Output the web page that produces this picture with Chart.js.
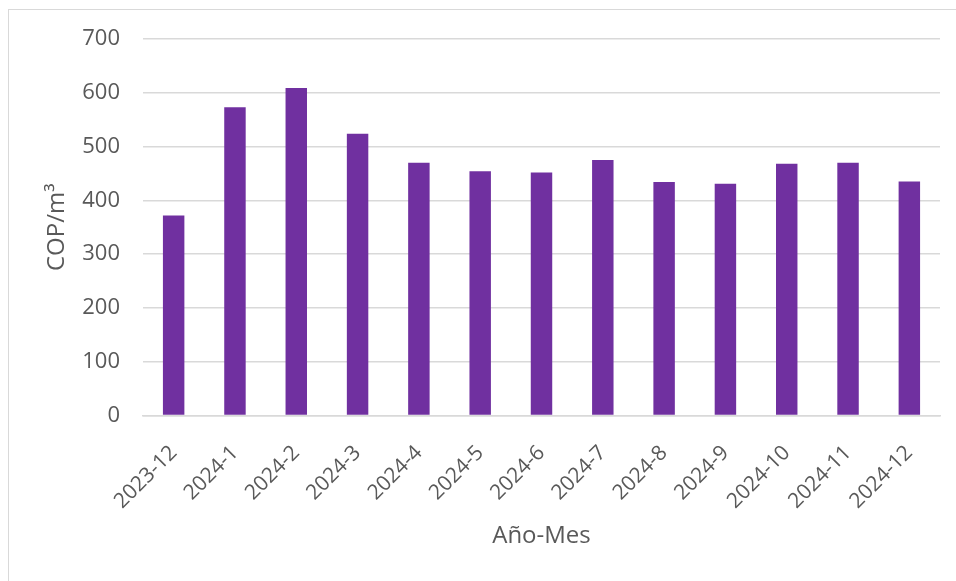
<!DOCTYPE html>
<html>
<head>
<meta charset="utf-8">
<script src="https://cdn.jsdelivr.net/npm/chart.js@4"></script>
<style>
  html, body { margin: 0; padding: 0; background: #ffffff; }
  #wrap { position: relative; width: 956px; height: 581px; overflow: hidden; }
  #frame { position: absolute; left: 8px; top: 9px; width: 1000px; height: 1000px; border: 1px solid #d9d9d9; box-sizing: border-box; }
  canvas { position: absolute; left: 0; top: 0; }
</style>
</head>
<body>
<div id="wrap">
  <div id="frame"></div>
  <canvas id="chart" width="956" height="581"></canvas>
</div>
<script>
// Monthly cost per cubic metre
const months = ['2023-12', '2024-1', '2024-2', '2024-3', '2024-4', '2024-5', '2024-6',
                '2024-7', '2024-8', '2024-9', '2024-10', '2024-11', '2024-12'];
const copPerM3 = [372, 573, 609, 524, 470, 454, 452, 475, 434, 431, 468, 470, 435];
const yTicks = [0, 100, 200, 300, 400, 500, 600, 700];

const textColor = '#595959';
const gridColor = '#d9d9d9';
const fontFamily = "'Open Sans', 'Liberation Sans', sans-serif";

new Chart(document.getElementById('chart'), {
  type: 'bar',
  data: {
    labels: months,
    datasets: [{
      label: 'COP/m³',
      data: copPerM3,
      backgroundColor: '#7030A0',
      borderWidth: 0,
      categoryPercentage: 1.0,
      barPercentage: 0.35
    }]
  },
  options: {
    responsive: false,
    animation: false,
    layout: { padding: { left: 0, right: 16, top: 39, bottom: 0 } },
    plugins: { legend: { display: false }, tooltip: { enabled: false } },
    scales: {
      x: {
        grid: { display: false, drawTicks: false },
        border: { display: true, color: gridColor, width: 1.5 },
        ticks: {
          color: textColor,
          font: { family: fontFamily, size: 21 },
          minRotation: 45,
          maxRotation: 45,
          padding: 25
        },
        title: {
          display: true,
          text: 'Año-Mes',
          color: textColor,
          font: { family: fontFamily, size: 24 },
          padding: { top: 0, bottom: 30 }
        },
        afterFit: (scale) => { scale.height = 581 - 415.5; }
      },
      y: {
        min: 0,
        max: 700,
        afterBuildTicks: (scale) => { scale.ticks = yTicks.map(v => ({ value: v })); },
        grid: { color: gridColor, lineWidth: 1.5, drawTicks: false },
        border: { display: false },
        ticks: {
          color: textColor,
          font: { family: fontFamily, size: 22 },
          padding: 23
        },
        title: {
          display: true,
          text: 'COP/m³',
          color: textColor,
          font: { family: fontFamily, size: 24 },
          padding: { top: 43, bottom: 0 }
        },
        afterFit: (scale) => { scale.width = 143; }
      }
    }
  }
});
</script>
</body>
</html>
